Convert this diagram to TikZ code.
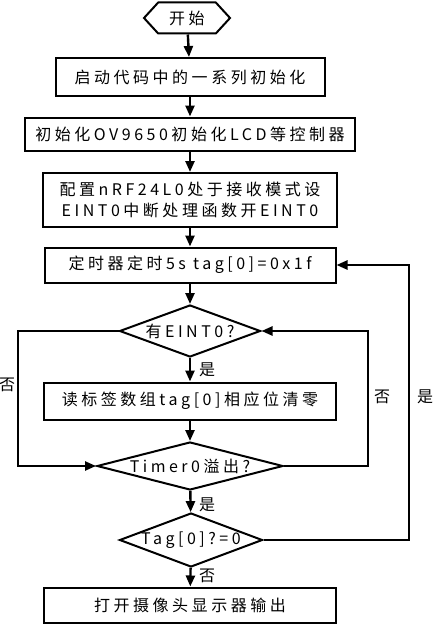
\documentclass[tikz,border=0pt]{standalone}
\usepackage{fontspec}
\setmainfont{Noto Sans CJK SC}
\newfontfamily\lblfont[LetterSpace=22]{Noto Sans CJK SC}
\usetikzlibrary{positioning,shapes.geometric,shapes.symbols,arrows.meta}

\begin{document}
\begin{tikzpicture}[x=1pt,y=-1pt]
\tikzstyle{every node}+=[inner sep=0pt,font=\lblfont\fontsize{16}{21}\selectfont]
\tikzstyle{box}=[draw,line width=2pt,rectangle,minimum height=35pt]
\tikzstyle{cond}=[draw,line width=2pt,diamond]
\tikzstyle{flow}=[line width=2.4pt,-{Triangle[length=11pt,width=9pt]}]
\useasboundingbox (0,0) rectangle (441,634);
\node [draw,line width=2pt,signal,signal to=west and east,signal pointer angle=95,minimum width=86pt,minimum height=31pt] (start) at (187,18) {开始};
\node [box,minimum width=269pt,minimum height=38pt] (init) at (190,77) {启动代码中的一系列初始化};
\node [box,minimum width=330pt,minimum height=33pt] (ctrl) at (190,134) {初始化OV9650初始化LCD等控制器};
\node [box,minimum width=294pt,minimum height=54pt,align=center] (radio) at (190,200) {配置nRF24L0处于接收模式设\\EINT0中断处理函数开EINT0};
\node [box,minimum width=291pt] (timer) at (190,265) {定时器定时5s tag[0]=0x1f};
\node [cond,minimum width=141pt,minimum height=52pt,label=center:{有EINT0?}] (hasint) at (190,331) {};
\node [box,minimum width=292pt,minimum height=37pt] (clear) at (190,401) {读标签数组tag[0]相应位清零};
\node [cond,minimum width=186pt,minimum height=48pt,label=center:{Timer0溢出?}] (ovf) at (190,466) {};
\node [cond,minimum width=143pt,minimum height=54pt,label=center:{Tag[0]?=0}] (tagzero) at (191,540) {};
\node [box,minimum width=292pt] (cam) at (190,605) {打开摄像头显示器输出};
\coordinate (lft) at (18,331);
\coordinate (rgt) at (368,466);
\coordinate (far) at (409,540);
\draw [flow] (start) -- (init);
\draw [flow] (init) -- (ctrl);
\draw [flow] (ctrl) -- (radio);
\draw [flow] (radio) -- (timer);
\draw [flow] (timer) -- (hasint);
\draw [flow] (hasint) -- (clear);
\draw [flow] (clear) -- (ovf);
\draw [flow] (ovf) -- (tagzero);
\draw [flow] (tagzero) -- (cam);
\draw [flow] (hasint.west) -- (lft) |- (ovf.west);
\draw [flow] (ovf.east) -- (rgt) |- (hasint.east);
\draw [flow] (tagzero.east) -- (far) |- (timer.east);
\node (yes1) at (207,370) {是};
\node (yes2) at (207,505) {是};
\node (no3) at (207,576) {否};
\node (no1) at (7,385) {否};
\node (no2) at (382,397) {否};
\node (yes3) at (425,397) {是};
\end{tikzpicture}
\end{document}
